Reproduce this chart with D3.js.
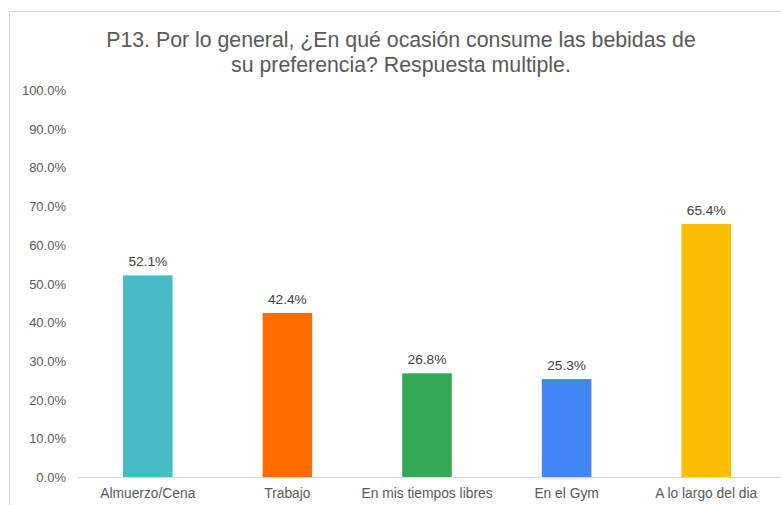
<!DOCTYPE html>
<html>
<head>
<meta charset="utf-8">
<script src="https://cdn.jsdelivr.net/npm/d3@7"></script>
<style>
html,body{margin:0;padding:0;background:#fff;}
svg{display:block;}
text{font-family:"Liberation Sans",Arial,sans-serif;}
</style>
</head>
<body>
<svg id="chart" width="781" height="505"></svg>
<script>
const categories = ["Almuerzo/Cena","Trabajo","En mis tiempos libres","En el Gym","A lo largo del dia"];
const values = [52.1, 42.4, 26.8, 25.3, 65.4];
const colors = ["#46BDC6","#FF6D01","#34A853","#4285F4","#FBBC04"];
const yTicks = [0,10,20,30,40,50,60,70,80,90,100];
const titleLines = ["P13. Por lo general, ¿En qué ocasión consume las bebidas de","su preferencia? Respuesta multiple."];

const svg = d3.select("#chart");

// border
svg.append("rect").attr("x",9.5).attr("y",11.5).attr("width",800).attr("height",520)
  .attr("fill","#fff").attr("stroke","#d9d9d9").attr("stroke-width",1);

const x = d3.scaleBand().domain(categories).range([78,776]).paddingInner(0.645).paddingOuter(0.3225);
const y = d3.scaleLinear().domain([0,100]).range([477,90]);

// title
svg.append("g").selectAll("text").data(titleLines).join("text")
  .attr("x",401).attr("y",(d,i)=>47+i*24.5)
  .attr("text-anchor","middle").attr("font-size",21.3).attr("fill","#595959")
  .text(d=>d);

// y axis
const yAxis = d3.axisLeft(y).tickValues(yTicks).tickSize(0).tickPadding(0)
  .tickFormat(d=>d.toFixed(1)+"%");
const gy = svg.append("g").attr("transform","translate(66,0)").call(yAxis);
gy.select(".domain").remove();
gy.selectAll("text").attr("font-size",13).attr("fill","#595959")
  .attr("font-family","'Liberation Sans',Arial,sans-serif").attr("dy","0.35em");

// bars
svg.append("g").selectAll("rect").data(values).join("rect")
  .attr("x",(d,i)=>x(categories[i]))
  .attr("y",d=>y(d))
  .attr("width",x.bandwidth())
  .attr("height",d=>y(0)-y(d))
  .attr("fill",(d,i)=>colors[i]);

// value labels
svg.append("g").selectAll("text").data(values).join("text")
  .attr("x",(d,i)=>x(categories[i])+x.bandwidth()/2)
  .attr("y",d=>y(d)-9)
  .attr("text-anchor","middle").attr("font-size",13.7).attr("fill","#404040")
  .text(d=>d.toFixed(1)+"%");

// x axis
const xAxis = d3.axisBottom(x).tickSize(0).tickPadding(11);
const gx = svg.append("g").attr("transform","translate(0,477)").call(xAxis);
gx.select(".domain").attr("stroke","#d9d9d9").attr("d","M78,0.5H781");
gx.selectAll("text").attr("font-size",13.8).attr("fill","#595959")
  .attr("font-family","'Liberation Sans',Arial,sans-serif");
</script>
</body>
</html>
